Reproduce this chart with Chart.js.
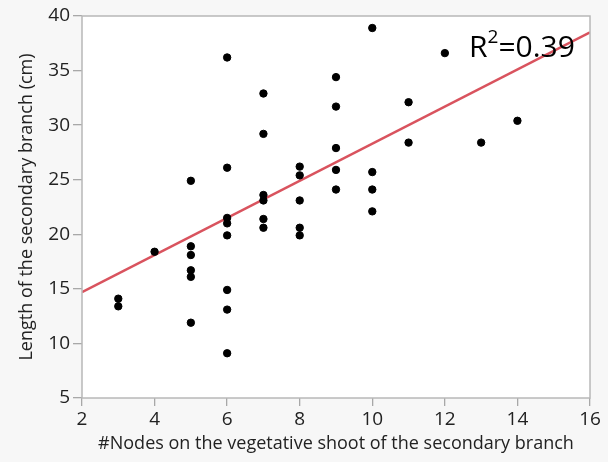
<!DOCTYPE html>
<html>
<head>
<meta charset="utf-8">
<script src="https://cdn.jsdelivr.net/npm/chart.js@4/dist/chart.umd.min.js"></script>
<style>
  body { margin: 0; background: #f7f7f7; }
  #wrap { width: 608px; height: 462px; }
</style>
</head>
<body>
<div id="wrap"><canvas id="chart" width="608" height="462"></canvas></div>
<script>
// data
var nodes = [3, 3, 4, 5, 5, 5, 5, 5, 5, 6, 6, 6, 6, 6, 6, 6, 6,
             7, 7, 7, 7, 7, 7, 8, 8, 8, 8, 8, 9, 9, 9, 9, 9,
             10, 10, 10, 10, 11, 11, 12, 13, 14];
var lengths = [14.1, 13.4, 18.4, 24.9, 18.9, 18.1, 16.7, 16.1, 11.9,
               36.2, 26.1, 21.5, 21.0, 19.9, 14.9, 13.1, 9.1,
               32.9, 29.2, 23.6, 23.1, 21.4, 20.6,
               26.2, 25.4, 23.1, 20.6, 19.9,
               34.4, 31.7, 27.9, 25.9, 24.1,
               38.9, 25.7, 24.1, 22.1,
               32.1, 28.4, 36.6, 28.4, 30.4];
var fitX = [2, 16];
var fitY = [14.7, 38.5];
var xTicks = [2, 4, 6, 8, 10, 12, 14, 16];
var yTicks = [5, 10, 15, 20, 25, 30, 35, 40];
var rSquared = "0.39";

var FONT = '"Open Sans", "Noto Sans", sans-serif';

var points = nodes.map(function(n, i) { return { x: n, y: lengths[i] }; });
var fitLine = fitX.map(function(n, i) { return { x: n, y: fitY[i] }; });

var frame = {
    id: 'frame',
    beforeDraw: function(chart) {
        var c = chart.ctx, a = chart.chartArea;
        c.save();
        c.fillStyle = '#f7f7f7';
        c.fillRect(0, 0, chart.width, chart.height);
        c.fillStyle = '#ffffff';
        c.fillRect(a.left, a.top, a.right - a.left, a.bottom - a.top);
        c.restore();
    },
    afterDraw: function(chart) {
        var c = chart.ctx, a = chart.chartArea;
        c.save();
        c.strokeStyle = '#b8b8b8';
        c.lineWidth = 1.5;
        c.strokeRect(a.left, a.top, a.right - a.left, a.bottom - a.top);
        // R^2 label
        c.fillStyle = '#000';
        c.textBaseline = 'alphabetic';
        var x0 = 469, base = 57;
        c.font = '30px ' + FONT;
        c.fillText('R', x0, base);
        var w = c.measureText('R').width;
        c.font = '19px ' + FONT;
        c.fillText('2', x0 + w, base - 14);
        var w2 = c.measureText('2').width;
        c.font = '30px ' + FONT;
        c.fillText('=' + rSquared, x0 + w + w2, base);
        c.restore();
    }
};

new Chart(document.getElementById('chart'), {
    type: 'scatter',
    data: {
        datasets: [{
            data: points,
            backgroundColor: '#000',
            borderColor: '#000',
            pointRadius: 3.7,
            order: 1
        }, {
            type: 'line',
            data: fitLine,
            borderColor: '#d9535e',
            borderWidth: 2.5,
            pointRadius: 0,
            fill: false,
            order: 2
        }]
    },
    options: {
        responsive: false,
        animation: false,
        layout: { padding: { left: 0, top: 16, right: 18, bottom: 0 } },
        plugins: { legend: { display: false }, tooltip: { enabled: false } },
        scales: {
            x: {
                type: 'linear',
                min: 2, max: 16,
                afterBuildTicks: function(s) { s.ticks = xTicks.map(function(v) { return { value: v }; }); },
                afterFit: function(s) { s.height = 64; },
                grid: { drawOnChartArea: false, drawTicks: true, tickLength: 8, color: '#a8a8a8', lineWidth: 1.3 },
                border: { display: false },
                ticks: { color: '#222', padding: 2, font: { size: 19, family: FONT }, maxRotation: 0 },
                title: { display: true, text: '#Nodes on the vegetative shoot of the secondary branch', color: '#222',
                         padding: { top: 0, bottom: 7 },
                         font: { size: 18, family: FONT } }
            },
            y: {
                type: 'linear',
                min: 5, max: 40,
                afterBuildTicks: function(s) { s.ticks = yTicks.map(function(v) { return { value: v }; }); },
                afterFit: function(s) { s.width = 82; },
                grid: { drawOnChartArea: false, drawTicks: true, tickLength: 9, color: '#a8a8a8', lineWidth: 1.3 },
                border: { display: false },
                ticks: { color: '#222', padding: 3, font: { size: 19, family: FONT } },
                title: { display: true, text: 'Length of the secondary branch (cm)', color: '#222',
                         padding: { top: 16, bottom: 0 },
                         font: { size: 18, family: FONT } }
            }
        }
    },
    plugins: [frame]
});
</script>
</body>
</html>
